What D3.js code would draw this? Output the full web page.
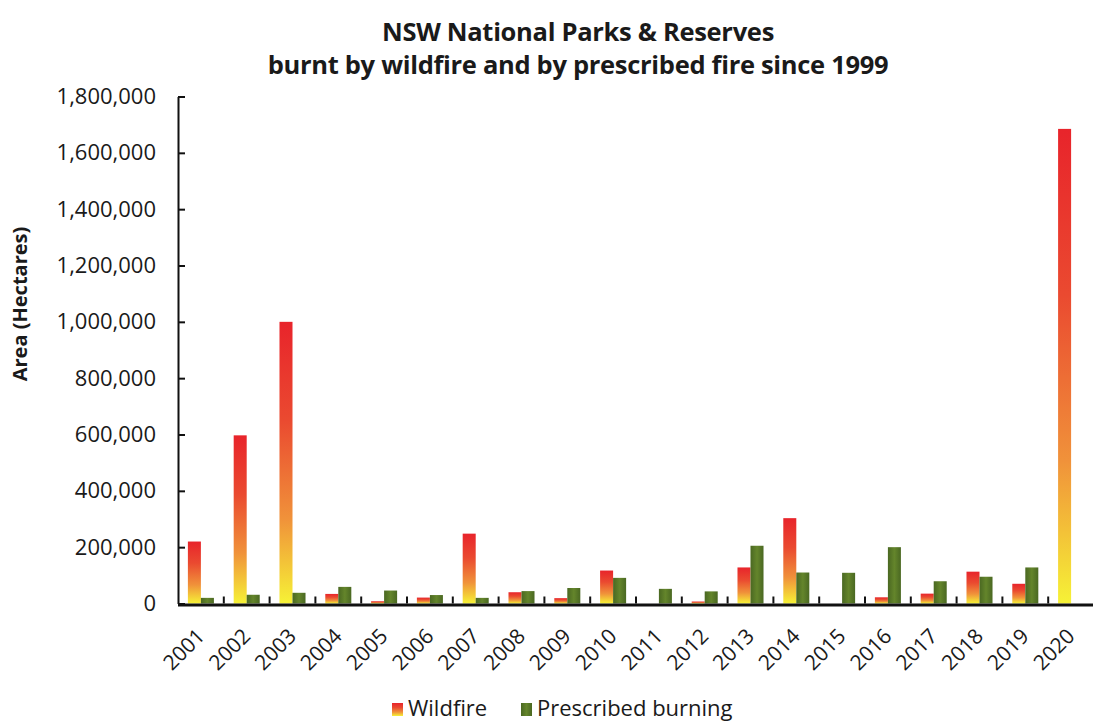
<!DOCTYPE html>
<html>
<head>
<meta charset="utf-8">
<script src="https://cdn.jsdelivr.net/npm/d3@7"></script>
<style>
  html, body { margin: 0; padding: 0; background: #ffffff; }
  svg { display: block; }
  text { font-family: "Open Sans", "Lato", sans-serif; fill: #1a1a1a; }
</style>
</head>
<body>
<svg id="chart" width="1093" height="722"></svg>
<script>
const years = ["2001","2002","2003","2004","2005","2006","2007","2008","2009","2010",
               "2011","2012","2013","2014","2015","2016","2017","2018","2019","2020"];
const wildfire = [220000, 597000, 1000000, 34000, 8000, 21000, 248000, 40000, 19000, 117000,
                  0, 7000, 128000, 303000, 0, 22000, 35000, 113000, 70000, 1685000];
const prescribed = [20000, 31000, 38000, 59000, 46000, 30000, 20000, 44000, 55000, 91000,
                    52000, 43000, 205000, 110000, 109000, 200000, 79000, 95000, 128000, 0];
const yTicks = [0, 200000, 400000, 600000, 800000, 1000000, 1200000, 1400000, 1600000, 1800000];
const seriesNames = ["Wildfire", "Prescribed burning"];
const titleLines = ["NSW National Parks & Reserves", "burnt by wildfire and by prescribed fire since 1999"];
const yLabel = "Area (Hectares)";

(function () {
const svg = d3.select("#chart");
const mLeft = 178, mRight = 1094, mTop = 96.5, mBottom = 603.5;

const x = d3.scaleBand().domain(years).range([mLeft, mRight]).paddingInner(0).paddingOuter(0);
const xs = d3.scaleBand().domain(seriesNames).range([0, x.bandwidth()]).paddingInner(0).paddingOuter(0.76);
const y = d3.scaleLinear().domain([0, 1800000]).range([mBottom, mTop]);

const defs = svg.append("defs");
const gRed = defs.append("linearGradient").attr("id", "gradRed")
  .attr("x1", 0).attr("y1", 0).attr("x2", 0).attr("y2", 1);
gRed.append("stop").attr("offset", "0%").attr("stop-color", "#e8242b");
gRed.append("stop").attr("offset", "35%").attr("stop-color", "#ea4a30");
gRed.append("stop").attr("offset", "70%").attr("stop-color", "#f0923a");
gRed.append("stop").attr("offset", "100%").attr("stop-color", "#f6f236");
const gGreen = defs.append("linearGradient").attr("id", "gradGreen")
  .attr("x1", 0).attr("y1", 0).attr("x2", 1).attr("y2", 0);
gGreen.append("stop").attr("offset", "0%").attr("stop-color", "#4a6822");
gGreen.append("stop").attr("offset", "50%").attr("stop-color", "#64852b");
gGreen.append("stop").attr("offset", "100%").attr("stop-color", "#4a6822");
const fills = { "Wildfire": "url(#gradRed)", "Prescribed burning": "url(#gradGreen)" };

// Title
svg.append("g").selectAll("text").data(titleLines).join("text")
  .attr("x", 578).attr("y", (d, i) => 41 + i * 33)
  .attr("text-anchor", "middle")
  .style("font-weight", "bold").style("font-size", "25.5px")
  .style("letter-spacing", "-0.3px")
  .text(d => d);

// Y label
svg.append("text")
  .attr("transform", "translate(27,304) rotate(-90)")
  .attr("text-anchor", "middle")
  .style("font-weight", "bold").style("font-size", "20px")
  .text(yLabel);

// Bars
const rows = years.map((yr, i) => ({ year: yr, values: [
  { key: "Wildfire", value: wildfire[i] },
  { key: "Prescribed burning", value: prescribed[i] }
]}));
const groups = svg.append("g").selectAll("g").data(rows).join("g")
  .attr("transform", d => `translate(${x(d.year)},0)`);
groups.selectAll("rect").data(d => d.values.filter(v => v.value > 0)).join("rect")
  .attr("x", d => xs(d.key))
  .attr("width", xs.bandwidth())
  .attr("y", d => y(d.value))
  .attr("height", d => y(0) - y(d.value))
  .attr("fill", d => fills[d.key]);

// Y axis
const yAxis = d3.axisLeft(y).tickValues(yTicks)
  .tickFormat(d3.format(","))
  .tickSizeInner(-7).tickSizeOuter(0).tickPadding(22);
const gy = svg.append("g").attr("transform", `translate(${mLeft},0)`).call(yAxis);
gy.select(".domain").attr("stroke", "#111").attr("stroke-width", 2);
gy.selectAll(".tick line").attr("stroke", "#111").attr("stroke-width", 2);
gy.selectAll(".tick text").style("font-size", "22px").style("font-family", "'Open Sans', sans-serif").attr("fill", "#1a1a1a");

// X axis line
svg.append("line").attr("x1", mLeft).attr("x2", 1093).attr("y1", mBottom + 1.5).attr("y2", mBottom + 1.5)
  .attr("stroke", "#111").attr("stroke-width", 3);
// X separator ticks (inside)
svg.append("g").selectAll("line").data(years.slice(1)).join("line")
  .attr("x1", d => x(d)).attr("x2", d => x(d))
  .attr("y1", mBottom).attr("y2", mBottom - 7)
  .attr("stroke", "#111").attr("stroke-width", 2);
// X labels
svg.append("g").selectAll("text").data(years).join("text")
  .attr("transform", d => `translate(${x(d) + x.bandwidth() / 2 + 5},${mBottom + 34}) rotate(-45)`)
  .attr("text-anchor", "end")
  .style("font-size", "21px")
  .text(d => d);

// Legend
const legend = svg.append("g").attr("transform", "translate(392,703)");
const lg = legend.selectAll("g").data(seriesNames).join("g")
  .attr("transform", (d, i) => `translate(${i === 0 ? 0 : 129},0)`);
lg.append("rect").attr("width", 11).attr("height", 13).attr("y", 0)
  .attr("fill", d => fills[d]);
lg.append("text").attr("x", 16).attr("y", 13)
  .style("font-size", "22px")
  .text(d => d);
})();
</script>
</body>
</html>
